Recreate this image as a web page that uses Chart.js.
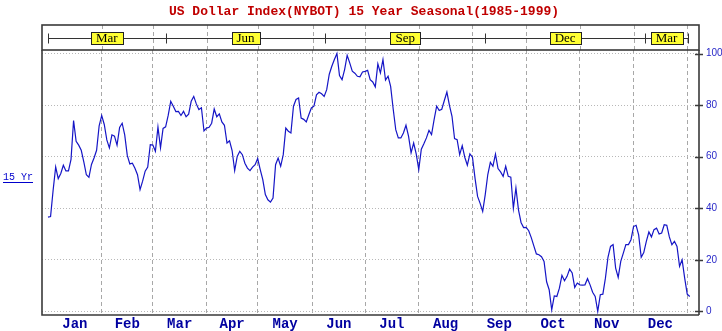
<!DOCTYPE html>
<html>
<head>
<meta charset="utf-8">
<script src="https://cdn.jsdelivr.net/npm/chart.js@4.4.1/dist/chart.umd.min.js"></script>
<style>
  html, body { margin: 0; padding: 0; background: #fff; }
  canvas { display: block; }
</style>
</head>
<body>
<canvas id="seasonal" width="722" height="331"></canvas>
<script>
const title = 'US Dollar Index(NYBOT) 15 Year Seasonal(1985-1999)';
const seriesName = '15 Yr';

// calendar months; monthStarts are trading-day indexes where each month begins
const months = ['Jan', 'Feb', 'Mar', 'Apr', 'May', 'Jun', 'Jul', 'Aug', 'Sep', 'Oct', 'Nov', 'Dec'];
const monthStarts = [0, 21, 41, 62, 82, 103.5, 124, 145, 166, 187, 208, 229, 250];

// futures contract months shown in the strip above the plot
const contractMonths = ['Mar', 'Jun', 'Sep', 'Dec', 'Mar'];
const contractBreaks = [0, 46, 108.5, 171, 233.5, 250.3];

const yTicks = [0, 20, 40, 60, 80, 100];

// seasonal index, one value per trading day
const seasonal = [
  36.6, 36.8, 47, 56, 51.5, 53.5, 56.7, 54.5, 54.5, 59,
  74, 66, 64.5, 62.5, 58, 53, 52, 57, 59.5, 62.5,
  72, 76, 72.5, 66.5, 63.4, 68.5, 68, 64.5, 71.4, 73,
  68.5, 60.5, 57.2, 57.5, 55.5, 53, 47.2, 50.5, 54.4, 56,
  64.7, 64.5, 62.1, 71.5, 63.5, 71, 71.6, 76, 81.5, 79.6,
  77.5, 77.6, 76, 77.6, 75.5, 76.5, 81.5, 83.4, 80.5, 78.3,
  79, 70, 71.1, 71.4, 73, 78.5, 75.5, 76.6, 73.5, 72.2,
  65.3, 66.2, 62.4, 54.6, 60.1, 62.1, 60.8, 57.5, 55.6, 54.6,
  56, 56.9, 59.3, 55, 51.1, 45.3, 43.3, 42.4, 44, 56.9,
  59.5, 56.3, 60.8, 71.1, 69.9, 69.2, 79.6, 82.2, 82.8, 75,
  74.5, 73.5, 76.3, 78.9, 79.6, 84, 85, 84.4, 83.4, 86,
  92, 95.1, 97.7, 100, 91.5, 89.9, 93.8, 99.3, 96.4, 93.2,
  92.4, 91.2, 91, 92.9, 93.1, 93.5, 89.9, 89, 87.1, 96,
  92.5, 97.7, 89.7, 91.2, 87.3, 78.5, 70.5, 67.3, 67.3, 69.2,
  72.2, 68, 61.5, 65.3, 61.1, 55, 62.9, 65, 67.3, 70.2,
  68.6, 74.4, 79.6, 77.9, 78.4, 81.8, 85.1, 79.9, 75.7, 67,
  66.6, 60.8, 64.3, 59.8, 56.7, 61.1, 59.8, 51.7, 44.6, 41.9,
  38.8, 45.3, 53.1, 57.8, 56.3, 61, 55.4, 54.1, 52.4, 56.3,
  52.4, 52.1, 40, 47.9, 39.4, 34.5, 32.5, 32.6, 31.3, 28.6,
  25.4, 22.3, 22, 21.2, 19.4, 11.5, 8.4, 0.6, 6, 5.8,
  9, 14, 11.9, 13.6, 16.4, 14.9, 9.3, 11, 10.3, 10.2,
  10.3, 12.7, 10.3, 7.4, 5.8, 0, 6.5, 6.7, 12.9, 21,
  25.2, 25.9, 16.8, 13.2, 19.4, 22.6, 25.9, 25.9, 27.8, 32.9,
  33.4, 29.7, 21, 22.8, 27.2, 30.8, 28.9, 31.7, 32.3, 30,
  30.4, 33.6, 33.4, 28.9, 25.9, 27.2, 25.2, 17.5, 20, 12.9,
  6.7, 5.8
];

const X_MIN = -2.35, X_MAX = 254.6;
const monthMids = months.map((m, i) => (monthStarts[i] + monthStarts[i + 1]) / 2);

const frame = {
  id: 'frame',
  afterDraw(chart) {
    const { ctx, chartArea: a } = chart;
    const x = chart.scales.x, y = chart.scales.y;
    const bandTop = 25;
    ctx.save();

    // title
    ctx.font = 'bold 13px "Liberation Mono"';
    ctx.fillStyle = '#c00000';
    ctx.textAlign = 'center';
    ctx.textBaseline = 'middle';
    ctx.fillText(title, 364, 12);

    // month grid continues through the contract strip
    ctx.strokeStyle = '#a8a8a8';
    ctx.lineWidth = 1;
    ctx.setLineDash([4, 3]);
    monthStarts.slice(1).forEach(d => {
      const px = Math.round(x.getPixelForValue(d)) + 0.5;
      ctx.beginPath();
      ctx.moveTo(px, bandTop);
      ctx.lineTo(px, a.top);
      ctx.stroke();
    });
    ctx.setLineDash([]);

    // contract strip
    const midY = Math.round((bandTop + a.top) / 2) + 0.5;
    const cx0 = x.getPixelForValue(contractBreaks[0]);
    const cx1 = x.getPixelForValue(contractBreaks[contractBreaks.length - 1]);
    ctx.strokeStyle = '#333';
    ctx.lineWidth = 1;
    ctx.beginPath();
    ctx.moveTo(cx0, midY);
    ctx.lineTo(cx1, midY);
    contractBreaks.forEach(d => {
      const px = Math.round(x.getPixelForValue(d)) + 0.5;
      ctx.moveTo(px, midY - 5);
      ctx.lineTo(px, midY + 5);
    });
    ctx.stroke();

    ctx.font = '13px "Liberation Serif"';
    ctx.textAlign = 'center';
    ctx.textBaseline = 'middle';
    contractMonths.forEach((m, i) => {
      const px = x.getPixelForValue((contractBreaks[i] + contractBreaks[i + 1]) / 2);
      const w = Math.round(ctx.measureText(m).width + 10);
      const bx = Math.round(px - w / 2) + 0.5;
      ctx.fillStyle = '#ffff33';
      ctx.fillRect(bx, midY - 6, w, 12);
      ctx.strokeStyle = '#222';
      ctx.strokeRect(bx, midY - 6, w, 12);
      ctx.fillStyle = '#000';
      ctx.fillText(m, px, midY + 0.5);
    });

    // frame and axes
    ctx.strokeStyle = '#3a3a3a';
    ctx.lineWidth = 1.6;
    ctx.strokeRect(a.left, bandTop, a.right - a.left, a.top - bandTop);
    ctx.beginPath();
    ctx.moveTo(a.left, a.top);
    ctx.lineTo(a.left, a.bottom);
    ctx.lineTo(a.right, a.bottom);
    ctx.moveTo(a.right, a.top);
    ctx.lineTo(a.right, a.bottom);
    yTicks.forEach(v => {
      const py = Math.round(y.getPixelForValue(v)) + 0.5;
      ctx.moveTo(a.right - 4, py);
      ctx.lineTo(a.right + 4, py);
    });
    ctx.stroke();

    // series label on the left
    ctx.font = '10px "Liberation Mono"';
    ctx.fillStyle = '#0000cc';
    ctx.textAlign = 'left';
    ctx.textBaseline = 'middle';
    ctx.fillText(seriesName, 3, 177);
    const lw = ctx.measureText(seriesName).width;
    ctx.strokeStyle = '#0000cc';
    ctx.lineWidth = 1;
    ctx.beginPath();
    ctx.moveTo(3, 182.5);
    ctx.lineTo(3 + lw, 182.5);
    ctx.stroke();

    ctx.restore();
  }
};

new Chart(document.getElementById('seasonal'), {
  type: 'line',
  data: {
    datasets: [{
      label: seriesName,
      data: seasonal.map((v, i) => ({ x: i, y: v })),
      borderColor: '#1515c6',
      borderWidth: 1.2,
      pointRadius: 0,
      tension: 0,
      fill: false
    }]
  },
  options: {
    responsive: false,
    animation: false,
    devicePixelRatio: 1,
    layout: { padding: { left: 42, top: 50, right: 0, bottom: 0 } },
    plugins: {
      legend: { display: false },
      tooltip: { enabled: false },
      title: { display: false }
    },
    scales: {
      x: {
        type: 'linear',
        position: 'bottom',
        min: X_MIN,
        max: X_MAX,
        afterBuildTicks: s => { s.ticks = monthStarts.slice(1).map(v => ({ value: v })); },
        afterFit: s => { s.height = 0; },
        ticks: { display: false },
        grid: { color: '#a8a8a8', lineWidth: 1, drawTicks: false },
        border: { display: false, dash: [4, 3] }
      },
      xm: {
        type: 'linear',
        position: 'bottom',
        min: X_MIN,
        max: X_MAX,
        afterBuildTicks: s => { s.ticks = monthMids.map(v => ({ value: v })); },
        afterFit: s => { s.height = 16; },
        ticks: {
          autoSkip: false,
          maxRotation: 0,
          padding: 1,
          color: '#0000a0',
          font: { family: 'Liberation Mono', size: 14, weight: 'bold' },
          callback: (v, i) => months[i]
        },
        grid: { display: false, drawTicks: false },
        border: { display: false }
      },
      y: {
        position: 'right',
        min: -1.4,
        max: 101.4,
        afterBuildTicks: s => { s.ticks = yTicks.map(v => ({ value: v })); },
        afterFit: s => { s.width = 23; },
        ticks: {
          padding: 7,
          color: '#2828c8',
          font: { family: 'Liberation Sans', size: 10 }
        },
        grid: { color: '#b8b8b8', lineWidth: 1, drawTicks: false },
        border: { display: false, dash: [1, 2] }
      }
    }
  },
  plugins: [frame]
});
</script>
</body>
</html>
